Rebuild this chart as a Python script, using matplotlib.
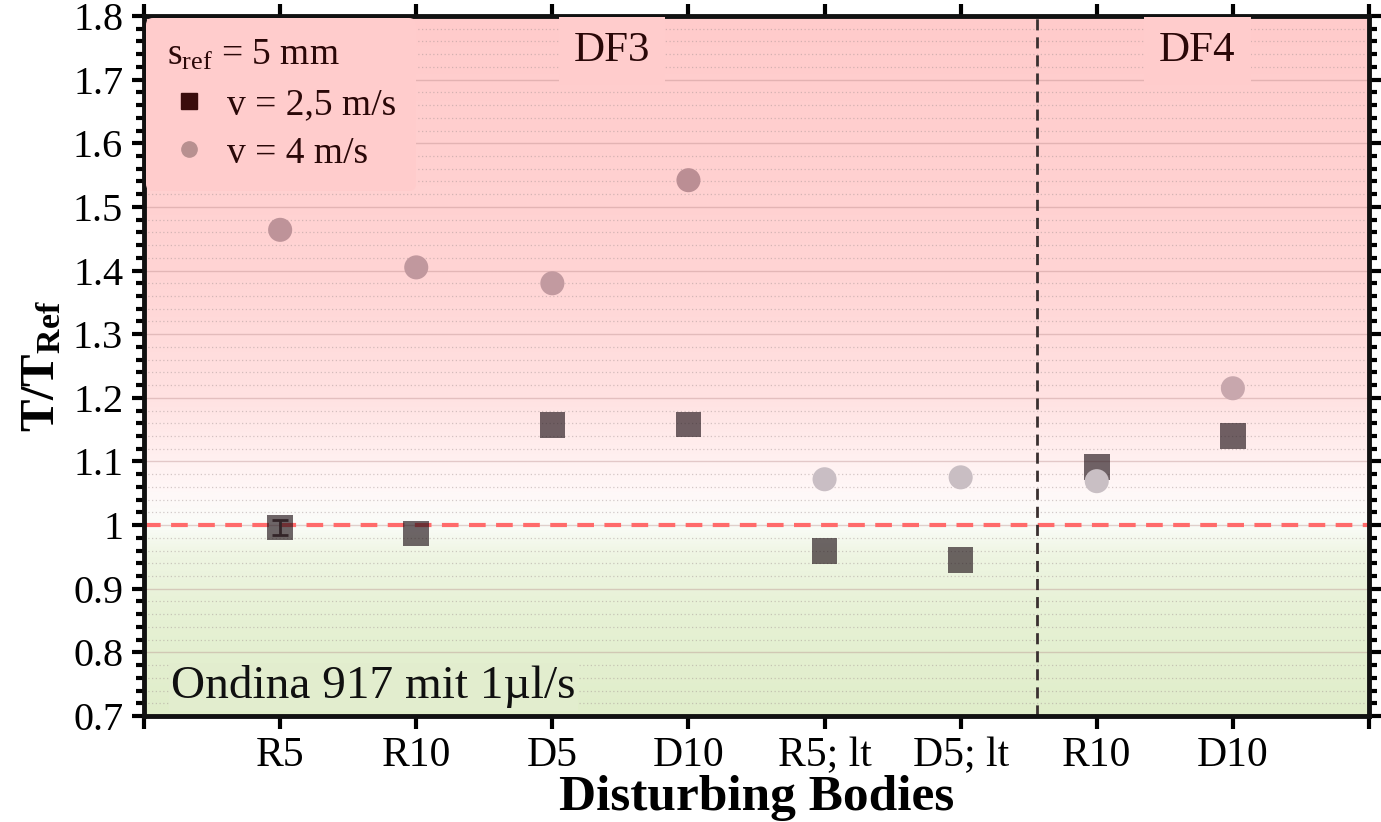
import numpy as np
import matplotlib
matplotlib.use("Agg")
import matplotlib.pyplot as plt
from matplotlib.colors import LinearSegmentedColormap
from matplotlib.lines import Line2D
from matplotlib.ticker import MultipleLocator, FuncFormatter

# --- data -------------------------------------------------------------
categories = ["R5", "R10", "D5", "D10", "R5; lt", "D5; lt", "R10", "D10"]
v25 = [0.996, 0.987, 1.157, 1.158, 0.959, 0.945, 1.091, 1.140]   # v = 2,5 m/s
v25_err = [0.012, 0.0, 0.0, 0.0, 0.0, 0.0, 0.0, 0.0]
v40 = [1.464, 1.405, 1.380, 1.542, 1.072, 1.075, 1.069, 1.215]   # v = 4 m/s
ref_line = 1.0
group_labels = ["DF3", "DF4"]

plt.rcParams["font.family"] = ["Liberation Serif", "DejaVu Serif"]
plt.rcParams["mathtext.fontset"] = "custom"
plt.rcParams["mathtext.rm"] = "Liberation Serif"
plt.rcParams["mathtext.it"] = "Liberation Serif:italic"
plt.rcParams["mathtext.bf"] = "Liberation Serif:bold"

fig = plt.figure(figsize=(13.81, 8.22), dpi=100)
ax = fig.add_axes([0.1043, 0.129, 0.8870, 0.8515])

x = np.arange(1, len(categories) + 1)
ax.set_xlim(0, 9)
ax.set_ylim(0.7, 1.8)

# background: red above the reference, fading through white into green below
stops = [(0.0, (224, 237, 202)), (0.1364, (230, 241, 212)), (0.2273, (238, 245, 226)),
         (0.2727, (250, 252, 248)), (0.3182, (255, 248, 248)), (0.4545, (255, 226, 226)),
         (0.6364, (255, 212, 212)), (1.0, (255, 203, 203))]
bg_cmap = LinearSegmentedColormap.from_list(
    "bg", [(p, tuple(c / 255 for c in rgb)) for p, rgb in stops])
grad = np.linspace(0, 1, 512).reshape(-1, 1)
ax.imshow(grad, cmap=bg_cmap, aspect="auto", origin="lower",
          extent=[0, 9, 0.7, 1.8], zorder=0)

# grid
ax.yaxis.set_major_locator(MultipleLocator(0.1))
ax.yaxis.set_minor_locator(MultipleLocator(0.02))
ax.grid(which="major", axis="y", color="#b08080", alpha=0.35, lw=1.0, zorder=1)
ax.grid(which="minor", axis="y", color="#a09090", alpha=0.45, lw=0.9,
        linestyle=(0, (1, 2)), zorder=1)
ax.set_axisbelow(True)

# reference line and group separator
ax.axhline(ref_line, color="#ff6b6b", lw=3, linestyle=(0, (4, 2.5)), zorder=2)
ax.axvline(6.56, color="#3a3030", lw=2, linestyle=(0, (4, 2.5)), zorder=2)

# v = 2,5 m/s
err = np.asarray(v25_err)
has_err = err > 0
ax.errorbar(x[has_err], np.asarray(v25)[has_err], yerr=err[has_err], fmt="none",
            ecolor="#5a4a4a", elinewidth=2, capsize=6, capthick=2, zorder=3)
ax.scatter(x, v25, marker="s", s=340, color="#1e1016", alpha=0.64,
           edgecolors="none", zorder=4)

# v = 4 m/s, shaded by distance from the reference
circ_cmap = LinearSegmentedColormap.from_list(
    "circ", [(0.0, "#c9c2c7"), (0.35, "#c8a5ab"), (1.0, "#bb8d93")])
ax.scatter(x, v40, marker="o", s=300, c=v40, cmap=circ_cmap, vmin=1.05, vmax=1.55,
           edgecolors="none", zorder=5)

# group labels
ax.text(3.44, 1.745, group_labels[0], fontsize=31, color="#2a0808", ha="center",
        va="center", zorder=6,
        bbox=dict(boxstyle="square,pad=0.35", fc="#ffcccc", ec="none"))
ax.text(7.74, 1.745, group_labels[1], fontsize=31, color="#2a0808", ha="center",
        va="center", zorder=6,
        bbox=dict(boxstyle="square,pad=0.35", fc="#ffcccc", ec="none"))

ax.text(0.2, 0.746, "Ondina 917 mit 1µl/s", fontsize=34, color="#101010",
        ha="left", va="center", zorder=6,
        bbox=dict(boxstyle="square,pad=0.05", fc="#e2edce", ec="none"))

# legend
handles = [Line2D([], [], marker="s", ls="none", color="#3a0c0c", markersize=11),
           Line2D([], [], marker="o", ls="none", color="#b89090", markersize=11)]
leg = ax.legend(handles, ["v = 2,5 m/s", "v = 4 m/s"], loc="upper left",
                title=r"s$_{\rm ref}$ = 5 mm", fontsize=27, title_fontsize=27,
                frameon=True, handletextpad=0.4, borderaxespad=0.05,
                borderpad=0.55, labelspacing=0.38, handlelength=1.2)
leg.get_frame().set_facecolor("#ffcccc")
leg.get_frame().set_edgecolor("none")
leg.get_frame().set_alpha(1)
leg._legend_box.align = "left"
leg.get_title().set_color("#2a0808")
for t in leg.get_texts():
    t.set_color("#2a0808")
leg.set_zorder(7)

# axes styling
ax.set_xticks(np.arange(0, 10))
ax.set_xticklabels([""] + categories + [""])
ax.yaxis.set_major_formatter(FuncFormatter(lambda v, p: f"{v:g}"))
ax.tick_params(axis="both", which="major", direction="out", length=9, width=3,
               labelsize=29, top=True, right=True, pad=6)
ax.tick_params(axis="x", which="major", labelsize=30)
ax.tick_params(axis="y", which="minor", direction="out", length=6, width=3,
               right=True)
for s in ax.spines.values():
    s.set_linewidth(3.5)
    s.set_color("#111111")

ax.set_xlabel("Disturbing Bodies", fontsize=37, fontweight="bold", labelpad=0)
ax.set_ylabel(r"$\mathbf{T/T_{Ref}}$", fontsize=35, labelpad=6)

fig.savefig("out.png", dpi=100)
